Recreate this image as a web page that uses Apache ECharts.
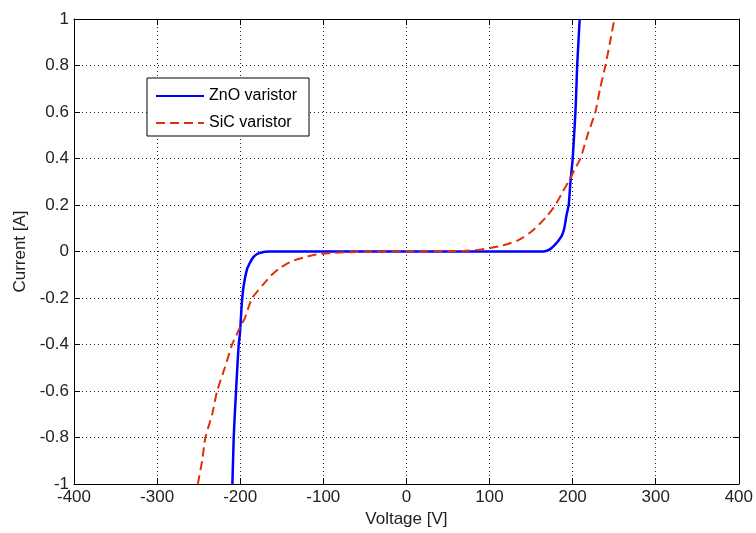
<!DOCTYPE html>
<html>
<head>
<meta charset="utf-8">
<script src="https://cdn.jsdelivr.net/npm/echarts@6/dist/echarts.min.js"></script>
<style>html,body{margin:0;padding:0;background:#fff;}#c{width:756px;height:533px;}</style>
</head>
<body>
<div id="c"></div>
<script>
// Data (Voltage [V], Current [A])
const znoV = [-209.4, -208.6, -207.8, -206.5, -205, -203.5, -201.8, -200.5, -199.2, -198, -195.8, -191.7, -188.5, -185.7, -183, -180, -177, -174, -170, -165, 0, 165, 169, 172, 175, 178, 181, 184, 187, 190, 192.5, 195.3, 197.3, 198.8, 200.1, 201.8, 203.4, 204.5, 205.5, 207, 208.5];
const znoI = [-1, -0.9, -0.8, -0.7, -0.6, -0.5, -0.4, -0.36, -0.29, -0.22, -0.146, -0.075, -0.05, -0.032, -0.02, -0.012, -0.007, -0.004, -0.0015, 0, 0, 0, 0.003, 0.008, 0.016, 0.026, 0.038, 0.052, 0.068, 0.1, 0.153, 0.2, 0.296, 0.35, 0.4, 0.5, 0.6, 0.7, 0.8, 0.9, 1];
const sicV = [-251, -245.8, -241.9, -233.7, -227.8, -218.5, -209.8, -204.6, -199.5, -194.6, -190, -185.7, -179, -171.7, -162, -153.7, -145, -135.6, -123, -111.5, -100, -88, -70, -50, 0, 50, 70, 88, 101, 111, 120, 133, 141, 149, 155, 162, 169.3, 179.3, 187, 195, 202, 209.4, 217.9, 227.4, 233, 239.5, 245, 250.3];
const sicI = [-1, -0.9, -0.8, -0.7, -0.6, -0.5, -0.4, -0.36, -0.32, -0.289, -0.24, -0.2, -0.17, -0.139, -0.1, -0.075, -0.055, -0.039, -0.025, -0.015, -0.01, -0.006, -0.003, -0.001, 0, 0.001, 0.003, 0.008, 0.015, 0.022, 0.03, 0.046, 0.062, 0.082, 0.1, 0.125, 0.153, 0.2, 0.25, 0.3, 0.35, 0.4, 0.5, 0.6, 0.7, 0.8, 0.9, 1];
const xTicks = [-400, -300, -200, -100, 0, 100, 200, 300, 400];
const yTicks = [-1, -0.8, -0.6, -0.4, -0.2, 0, 0.2, 0.4, 0.6, 0.8, 1];
const seriesNames = ['ZnO varistor', 'SiC varistor'];

const pairs = (xs, ys) => xs.map((x, i) => [x, ys[i]]);
const font = 'Liberation Sans, Arial, sans-serif';
const chart = echarts.init(document.getElementById('c'), null, {renderer: 'canvas'});
const gridLine = {show: true, lineStyle: {color: '#222', type: [1, 3], width: 1}};
const axisCommon = {
  axisLine: {show: true, onZero: false, lineStyle: {color: '#000', width: 1}},
  axisTick: {show: true, inside: true, length: 6, lineStyle: {color: '#000'}},
};
chart.setOption({
  animation: false,
  backgroundColor: '#fff',
  grid: {left: 74, right: 17, top: 19, bottom: 47, containLabel: false},
  legend: {
    orient: 'vertical', left: 147, top: 78,
    data: seriesNames,
    itemWidth: 48, itemHeight: 14, itemGap: 11,
    padding: [10, 12, 5, 8],
    itemStyle: {opacity: 0},
    borderColor: '#000', borderWidth: 1, backgroundColor: '#fff',
    textStyle: {fontFamily: font, fontSize: 16, color: '#000'}
  },
  xAxis: [{
    type: 'value', min: xTicks[0], max: xTicks[xTicks.length - 1], interval: 100,
    name: 'Voltage [V]', nameLocation: 'middle', nameGap: 27,
    nameTextStyle: {fontFamily: font, fontSize: 17, color: '#222'},
    axisLabel: {fontFamily: font, fontSize: 17, color: '#222', margin: 5},
    splitLine: gridLine, ...axisCommon
  }, {
    type: 'value', position: 'top', min: xTicks[0], max: xTicks[xTicks.length - 1], interval: 100,
    axisLabel: {show: false}, splitLine: {show: false}, ...axisCommon
  }],
  yAxis: [{
    type: 'value', min: yTicks[0], max: yTicks[yTicks.length - 1], interval: 0.2,
    name: 'Current [A]', nameLocation: 'middle', nameGap: 43, nameRotate: 90,
    nameTextStyle: {fontFamily: font, fontSize: 17, color: '#222'},
    axisLabel: {fontFamily: font, fontSize: 17, color: '#222', margin: 5,
      formatter: v => String(Math.round(v * 10) / 10)},
    splitLine: gridLine, ...axisCommon
  }, {
    type: 'value', position: 'right', min: yTicks[0], max: yTicks[yTicks.length - 1], interval: 0.2,
    axisLabel: {show: false}, splitLine: {show: false}, ...axisCommon
  }],
  series: [{
    name: seriesNames[0], type: 'line', data: pairs(znoV, znoI),
    symbol: 'none', smooth: 0.2, clip: true,
    lineStyle: {color: '#0000FF', width: 2.5}, itemStyle: {color: '#0000FF'}
  }, {
    name: seriesNames[1], type: 'line', data: pairs(sicV, sicI),
    symbol: 'none', smooth: 0.2, clip: true,
    lineStyle: {color: '#E0300A', width: 2, type: [9, 5]}, itemStyle: {color: '#E0300A'}
  }]
});
</script>
</body>
</html>
